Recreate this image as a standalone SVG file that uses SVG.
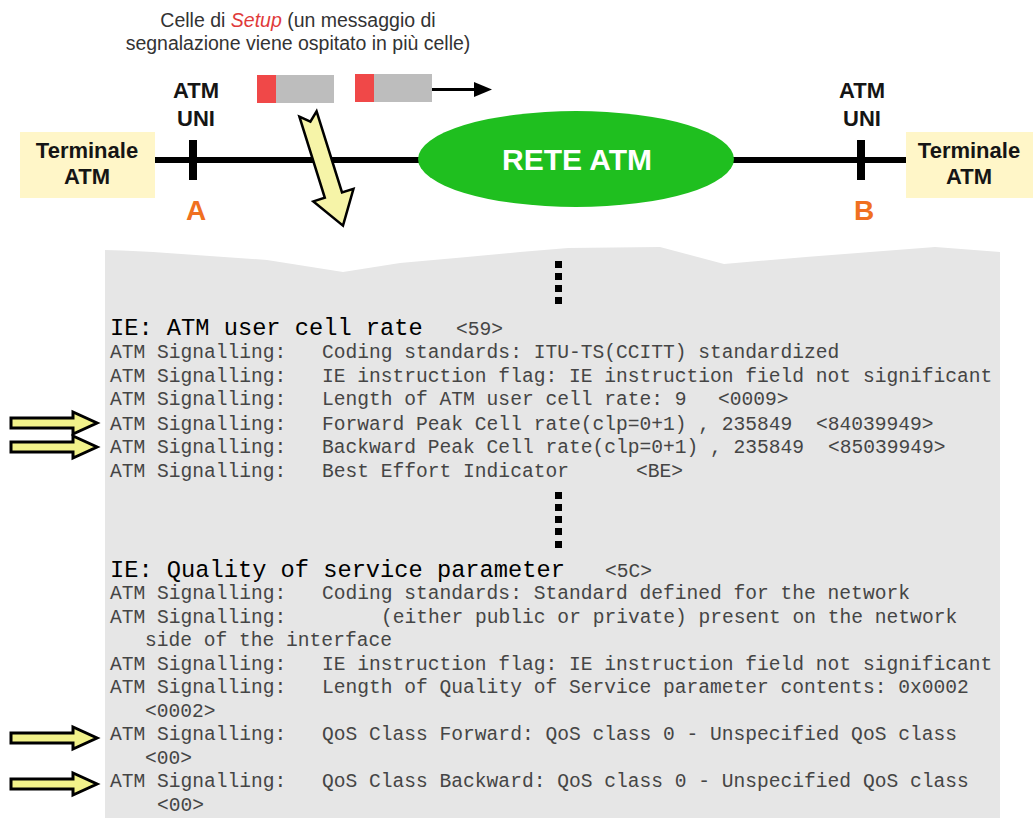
<svg xmlns="http://www.w3.org/2000/svg" width="1033" height="818" viewBox="0 0 1033 818">
  <style>
    .cap { font-family: "Liberation Sans", Arial, sans-serif; font-size: 19.5px; fill: #333; }
    .setup { fill: #e03a3a; font-style: italic; }
    .lbl { font-family: "Liberation Sans", Arial, sans-serif; font-weight: bold; font-size: 22px; fill: #151515; }
    .pt { font-family: "Liberation Sans", Arial, sans-serif; font-weight: bold; font-size: 28px; fill: #f07020; }
    .net { font-family: "Liberation Sans", Arial, sans-serif; font-weight: bold; font-size: 30px; fill: #ffffff; }
    .mono { font-family: "Liberation Mono", "Courier New", monospace; font-size: 19.6px; fill: #454545; }
    .hdr { font-size: 23.7px; fill: #000; }
    .term { fill: #fff6c8; }
    .wire { stroke: #000; stroke-width: 6; fill: none; }
    .tick { fill: #000; }
    .ptr { fill: #f2f28a; stroke: #000; stroke-width: 3; stroke-linejoin: miter; }
    .dot { fill: #000; }
  </style>
  <defs>
    <!-- small pointer arrow used beside the highlighted trace lines -->
    <polygon id="pointer" points="0,-5 62,-5 62,-11 86,0 62,11 62,5 0,5"/>
  </defs>

  <!-- caption -->
  <g id="caption">
    <text class="cap" x="298" y="27" text-anchor="middle">Celle di <tspan class="setup">Setup</tspan> (un messaggio di</text>
    <text class="cap" x="298" y="50" text-anchor="middle">segnalazione viene ospitato in più celle)</text>
  </g>

  <!-- trace panel with torn top edge -->
  <g id="trace-panel">
    <path d="M105,250 Q140,251 167,253 L267,260 L343,272 L400,263 L467,257 L520,252 L568,248 L660,247 L724,264 L806,257 L935,247 L1000,252 L1000,818 L105,818 Z" fill="#e6e6e6"/>
  </g>

  <!-- connectors: access lines -->
  <g id="connectors">
    <line class="wire" x1="155" y1="160" x2="430" y2="160"/>
    <line class="wire" x1="725" y1="160" x2="906" y2="160"/>
    <!-- cell direction arrow -->
    <line x1="432" y1="89.5" x2="476" y2="89.5" stroke="#000" stroke-width="3"/>
    <polygon points="474,82 492,89.5 474,97" fill="#000"/>
  </g>

  <!-- terminals -->
  <g id="terminal-a">
    <rect class="term" x="20" y="132" width="135" height="66"/>
    <text class="lbl" x="87" y="158" text-anchor="middle">Terminale</text>
    <text class="lbl" x="87" y="184" text-anchor="middle">ATM</text>
  </g>
  <g id="terminal-b">
    <rect class="term" x="906" y="132" width="127" height="66"/>
    <text class="lbl" x="969" y="158" text-anchor="middle">Terminale</text>
    <text class="lbl" x="969" y="184" text-anchor="middle">ATM</text>
  </g>

  <!-- UNI reference points -->
  <g id="uni-a">
    <rect class="tick" x="189" y="140" width="8" height="40"/>
    <text class="lbl" x="196" y="98" text-anchor="middle">ATM</text>
    <text class="lbl" x="196" y="126" text-anchor="middle">UNI</text>
    <text class="pt" x="196" y="220" text-anchor="middle">A</text>
  </g>
  <g id="uni-b">
    <rect class="tick" x="857" y="140" width="8" height="40"/>
    <text class="lbl" x="862" y="98" text-anchor="middle">ATM</text>
    <text class="lbl" x="862" y="126" text-anchor="middle">UNI</text>
    <text class="pt" x="864" y="220" text-anchor="middle">B</text>
  </g>

  <!-- network cloud -->
  <g id="rete-atm">
    <ellipse cx="576" cy="159" rx="158" ry="48" fill="#1fbf1f"/>
    <text class="net" x="577" y="170" text-anchor="middle">RETE ATM</text>
  </g>

  <!-- setup cells -->
  <g id="cell-1">
    <rect x="257" y="75" width="19" height="28" fill="#f04848"/>
    <rect x="276" y="75" width="58" height="28" fill="#bdbdbd"/>
  </g>
  <g id="cell-2">
    <rect x="355" y="74" width="19" height="28" fill="#f04848"/>
    <rect x="374" y="74" width="58" height="28" fill="#bdbdbd"/>
  </g>

  <!-- zoom-in arrow from the cells to the decoded trace -->
  <g id="zoom-arrow">
    <polygon transform="translate(308,114) rotate(-17.4)" points="-9,0 0,8 9,0 9,85 21,85 0,117 -21,85 -9,85" fill="#f6f4a8" stroke="#000" stroke-width="2.5"/>
  </g>

  <!-- continuation marks -->
  <g id="dots-1">
    <rect class="dot" x="555" y="261" width="7" height="7"/>
    <rect class="dot" x="555" y="273" width="7" height="7"/>
    <rect class="dot" x="555" y="285" width="7" height="7"/>
    <rect class="dot" x="555" y="297" width="7" height="7"/>
  </g>
  <g id="dots-2">
    <rect class="dot" x="555" y="492" width="7" height="7"/>
    <rect class="dot" x="555" y="504" width="7" height="7"/>
    <rect class="dot" x="555" y="516" width="7" height="7"/>
    <rect class="dot" x="555" y="528" width="7" height="7"/>
    <rect class="dot" x="555" y="541" width="7" height="7"/>
  </g>

  <!-- IE: ATM user cell rate (label column at 110, value column at 322) -->
  <g id="ie-cell-rate" class="mono">
    <text x="110" y="335"><tspan class="hdr">IE: ATM user cell rate</tspan><tspan x="456">&lt;59&gt;</tspan></text>
    <text x="110" y="358">ATM Signalling:<tspan x="322">Coding standards: ITU-TS(CCITT) standardized</tspan></text>
    <text x="110" y="382">ATM Signalling:<tspan x="322">IE instruction flag: IE instruction field not significant</tspan></text>
    <text x="110" y="405">ATM Signalling:<tspan x="322">Length of ATM user cell rate: 9</tspan><tspan x="718">&lt;0009&gt;</tspan></text>
    <text x="110" y="430">ATM Signalling:<tspan x="322">Forward Peak Cell rate(clp=0+1) , 235849</tspan><tspan x="816">&lt;84039949&gt;</tspan></text>
    <text x="110" y="453">ATM Signalling:<tspan x="322">Backward Peak Cell rate(clp=0+1) , 235849</tspan><tspan x="828">&lt;85039949&gt;</tspan></text>
    <text x="110" y="477">ATM Signalling:<tspan x="322">Best Effort Indicator</tspan><tspan x="636">&lt;BE&gt;</tspan></text>
  </g>

  <!-- IE: Quality of service parameter -->
  <g id="ie-qos" class="mono">
    <text x="110" y="577"><tspan class="hdr">IE: Quality of service parameter</tspan><tspan x="605">&lt;5C&gt;</tspan></text>
    <text x="110" y="599">ATM Signalling:<tspan x="322">Coding standards: Standard defined for the network</tspan></text>
    <text x="110" y="623">ATM Signalling:<tspan x="381">(either public or private) present on the network</tspan></text>
    <text x="145" y="646">side of the interface</text>
    <text x="110" y="670">ATM Signalling:<tspan x="322">IE instruction flag: IE instruction field not significant</tspan></text>
    <text x="110" y="693">ATM Signalling:<tspan x="322">Length of Quality of Service parameter contents: 0x0002</tspan></text>
    <text x="145" y="717">&lt;0002&gt;</text>
    <text x="110" y="740">ATM Signalling:<tspan x="322">QoS Class Forward: QoS class 0 - Unspecified QoS class</tspan></text>
    <text x="145" y="764">&lt;00&gt;</text>
    <text x="110" y="787">ATM Signalling:<tspan x="322">QoS Class Backward: QoS class 0 - Unspecified QoS class</tspan></text>
    <text x="157" y="811">&lt;00&gt;</text>
  </g>

  <!-- pointers to the highlighted lines -->
  <g id="pointer-fwd-rate"><use href="#pointer" class="ptr" transform="translate(11,423)"/></g>
  <g id="pointer-bwd-rate"><use href="#pointer" class="ptr" transform="translate(11,447)"/></g>
  <g id="pointer-fwd-qos"><use href="#pointer" class="ptr" transform="translate(11,738)"/></g>
  <g id="pointer-bwd-qos"><use href="#pointer" class="ptr" transform="translate(11,784)"/></g>
</svg>
